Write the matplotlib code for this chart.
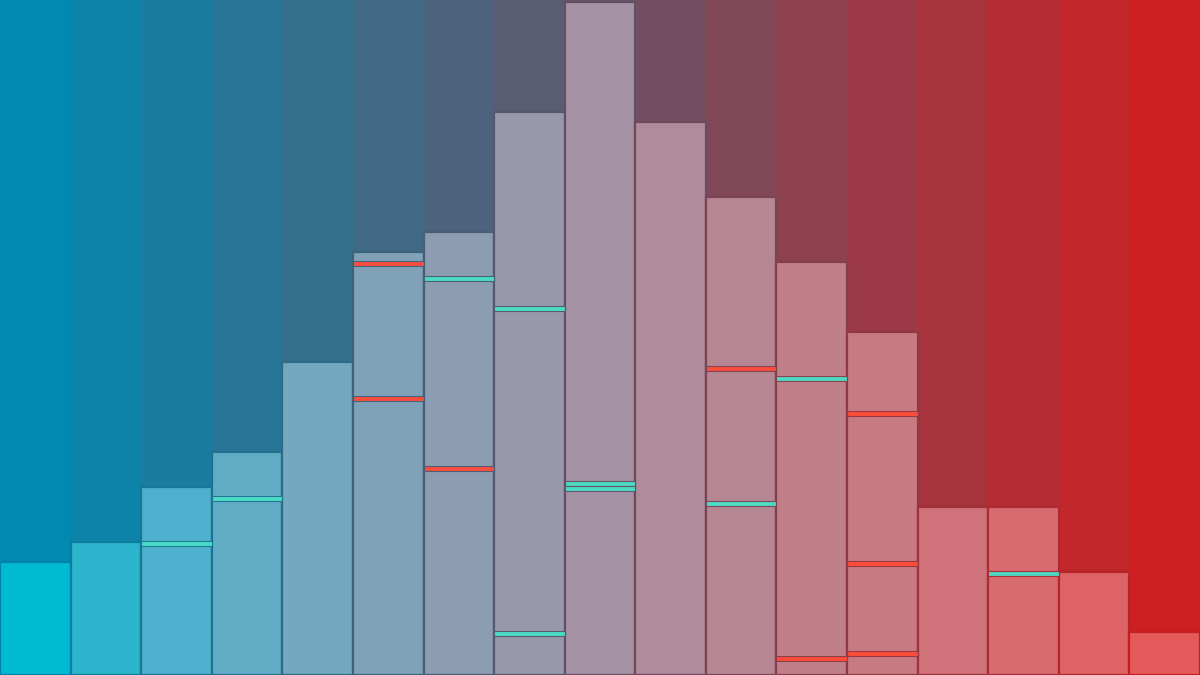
import matplotlib
matplotlib.use("Agg")
import matplotlib.pyplot as plt
import numpy as np
from matplotlib.colors import LinearSegmentedColormap

# ---- data (heights in chart units, axis 0..675) ----
categories = list(range(1, 18))
values = [113, 133, 188, 223, 313, 423, 443, 563, 673, 553, 478, 413, 343, 168, 168, 103, 43]

# marker lines: (category index, level, kind)
marker_idx = [2, 3, 5, 5, 6, 6, 7, 7, 8, 8, 10, 10, 11, 11, 12, 12, 12, 14]
marker_level = [132, 177, 412, 277, 397, 207, 367, 41.5, 192, 187, 307, 172, 297, 16.5, 262, 112, 22, 102]
marker_kind = ["c", "c", "r", "r", "c", "r", "c", "c", "c", "c", "r", "c", "c", "r", "r", "r", "r", "c"]

YMAX = 675

# ---- colours ----
bg_start = np.array([0, 138, 178]) / 255
bg_end = np.array([206, 32, 34]) / 255
bar_cmap = LinearSegmentedColormap.from_list(
    "bars",
    [(0.0, "#00bad4"), (0.0625, "#2cb4cc"), (0.125, "#4eb0cc"), (0.25, "#73a8be"),
     (0.5, "#a592a5"), (0.75, "#c87a82"), (0.9375, "#de6468"), (1.0, "#e55a5a")],
)
cyan = "#48dfc6"
red = "#ff4a36"

n = len(values)
t = np.linspace(0, 1, n)
bg_colors = [tuple(bg_start + (bg_end - bg_start) * ti) for ti in t]
bar_colors = [bar_cmap(ti) for ti in t]
edge_colors = [tuple(np.clip(np.array(c) * 0.95, 0, 1)) for c in bg_colors]

fig = plt.figure(figsize=(12, 6.75), dpi=100)
ax = fig.add_axes([0, 0, 1, 1])
x = np.arange(n)

# background columns
ax.bar(x, [YMAX] * n, width=1.0, color=bg_colors, edgecolor="none", linewidth=0)
# foreground bars
ax.bar(x, values, width=1.0, color=bar_colors, edgecolor=edge_colors, linewidth=1.6)

# markers
mh = 5.0
for i, lvl, k in zip(marker_idx, marker_level, marker_kind):
    ax.bar(i, mh, bottom=lvl - mh / 2, width=1.0,
           color=cyan if k == "c" else red, alpha=0.95,
           edgecolor=edge_colors[i], linewidth=0.8)

ax.set_xlim(-0.5, n - 0.5)
ax.set_ylim(0, YMAX)
ax.axis("off")
fig.savefig("out.png", dpi=100)
